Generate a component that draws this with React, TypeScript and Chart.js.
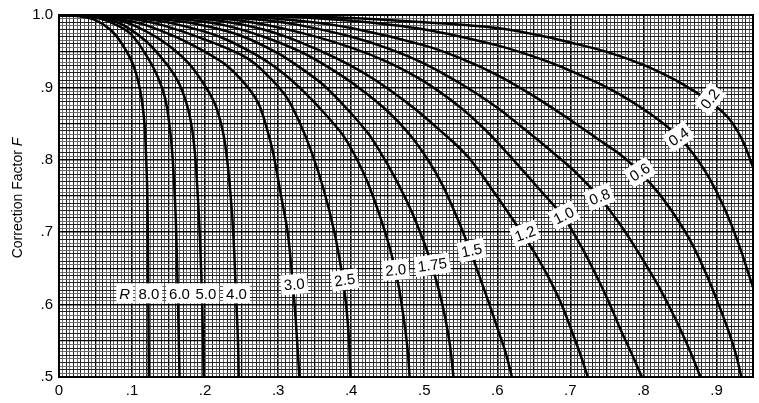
import React, { useEffect, useRef } from "react";
import { Chart, registerables } from "chart.js";

Chart.register(...registerables);

// ---- axis tick labels ----
const xTickLabels = ["0", ".1", ".2", ".3", ".4", ".5", ".6", ".7", ".8", ".9"];
const yTickLabels = [".5", ".6", ".7", ".8", ".9", "1.0"];

// ---- curves: [P, F] pairs ----
const curveR8_0: [number, number][] = [[0, 1], [0.03, 0.998], [0.05, 0.993], [0.07, 0.98], [0.085, 0.962], [0.1, 0.935], [0.108, 0.91], [0.113, 0.885], [0.117, 0.85], [0.119, 0.81], [0.121, 0.75], [0.122, 0.65], [0.1225, 0.58], [0.123, 0.5]];
const curveR6_0: [number, number][] = [[0, 1], [0.04, 0.998], [0.06, 0.994], [0.081, 0.985], [0.1, 0.972], [0.122, 0.94], [0.135, 0.915], [0.145, 0.886], [0.151, 0.85], [0.155, 0.81], [0.159, 0.74], [0.161, 0.68], [0.163, 0.6], [0.165, 0.5]];
const curveR5_0: [number, number][] = [[0, 1], [0.05, 0.998], [0.07, 0.993], [0.09, 0.985], [0.12, 0.963], [0.145, 0.935], [0.162, 0.91], [0.174, 0.88], [0.181, 0.85], [0.186, 0.81], [0.19, 0.75], [0.193, 0.69], [0.196, 0.6], [0.198, 0.5]];
const curveR4_0: [number, number][] = [[0, 1], [0.05, 0.998], [0.08, 0.993], [0.104, 0.985], [0.14, 0.965], [0.176, 0.935], [0.198, 0.905], [0.213, 0.878], [0.223, 0.845], [0.229, 0.81], [0.235, 0.75], [0.239, 0.69], [0.242, 0.62], [0.245, 0.55], [0.246, 0.5]];
const curveR3_0: [number, number][] = [[0, 1], [0.06, 0.998], [0.1, 0.991], [0.122, 0.985], [0.17, 0.965], [0.223, 0.935], [0.25, 0.91], [0.272, 0.88], [0.284, 0.845], [0.293, 0.81], [0.304, 0.75], [0.313, 0.7], [0.319, 0.64], [0.324, 0.58], [0.329, 0.5]];
const curveR2_5: [number, number][] = [[0, 1], [0.07, 0.998], [0.11, 0.993], [0.145, 0.985], [0.2, 0.966], [0.258, 0.94], [0.29, 0.912], [0.313, 0.884], [0.33, 0.85], [0.346, 0.81], [0.362, 0.76], [0.377, 0.7], [0.387, 0.645], [0.393, 0.6], [0.397, 0.55], [0.399, 0.5]];
const curveR2_0: [number, number][] = [[0, 1], [0.08, 0.998], [0.13, 0.993], [0.17, 0.985], [0.22, 0.97], [0.27, 0.945], [0.3, 0.925], [0.329, 0.9], [0.36, 0.868], [0.388, 0.835], [0.404, 0.808], [0.422, 0.77], [0.44, 0.72], [0.455, 0.67], [0.465, 0.625], [0.472, 0.58], [0.477, 0.54], [0.48, 0.5]];
const curveR1_75: [number, number][] = [[0, 1], [0.1, 0.998], [0.16, 0.992], [0.2, 0.985], [0.25, 0.971], [0.3, 0.947], [0.329, 0.928], [0.36, 0.905], [0.39, 0.875], [0.422, 0.838], [0.439, 0.812], [0.46, 0.775], [0.482, 0.73], [0.5, 0.685], [0.51, 0.655], [0.52, 0.62], [0.528, 0.585], [0.535, 0.545], [0.54, 0.5]];
const curveR1_5: [number, number][] = [[0, 1], [0.12, 0.998], [0.18, 0.993], [0.23, 0.985], [0.28, 0.97], [0.329, 0.95], [0.37, 0.927], [0.41, 0.9], [0.45, 0.867], [0.48, 0.835], [0.505, 0.8], [0.525, 0.765], [0.545, 0.72], [0.562, 0.677], [0.577, 0.635], [0.59, 0.598], [0.601, 0.565], [0.611, 0.535], [0.62, 0.5]];
const curveR1_2: [number, number][] = [[0, 1], [0.15, 0.998], [0.22, 0.992], [0.28, 0.98], [0.329, 0.963], [0.38, 0.94], [0.43, 0.912], [0.48, 0.876], [0.52, 0.842], [0.559, 0.805], [0.595, 0.756], [0.633, 0.7], [0.655, 0.665], [0.673, 0.632], [0.688, 0.6], [0.701, 0.566], [0.713, 0.533], [0.724, 0.5]];
const curveR1_0: [number, number][] = [[0, 1], [0.17, 0.998], [0.25, 0.992], [0.329, 0.976], [0.4, 0.955], [0.45, 0.935], [0.5, 0.908], [0.55, 0.872], [0.585, 0.84], [0.613, 0.81], [0.65, 0.768], [0.691, 0.72], [0.715, 0.68], [0.739, 0.633], [0.755, 0.598], [0.769, 0.565], [0.784, 0.532], [0.798, 0.5]];
const curveR0_8: [number, number][] = [[0, 1], [0.2, 0.998], [0.28, 0.993], [0.329, 0.986], [0.4, 0.97], [0.45, 0.954], [0.5, 0.933], [0.55, 0.905], [0.6, 0.872], [0.64, 0.84], [0.682, 0.805], [0.71, 0.78], [0.74, 0.748], [0.765, 0.715], [0.79, 0.677], [0.817, 0.632], [0.835, 0.598], [0.851, 0.565], [0.865, 0.533], [0.878, 0.5]];
const curveR0_6: [number, number][] = [[0, 1], [0.25, 0.998], [0.329, 0.992], [0.4, 0.982], [0.5, 0.958], [0.55, 0.94], [0.6, 0.917], [0.65, 0.888], [0.7, 0.855], [0.74, 0.827], [0.77, 0.806], [0.795, 0.783], [0.82, 0.755], [0.845, 0.72], [0.866, 0.685], [0.887, 0.64], [0.903, 0.6], [0.917, 0.562], [0.927, 0.53], [0.934, 0.5]];
const curveR0_4: [number, number][] = [[0, 1], [0.3, 0.998], [0.4, 0.992], [0.5, 0.98], [0.6, 0.958], [0.657, 0.94], [0.7, 0.923], [0.75, 0.9], [0.794, 0.874], [0.825, 0.852], [0.848, 0.832], [0.87, 0.806], [0.89, 0.775], [0.91, 0.735], [0.93, 0.685], [0.948, 0.63], [0.955, 0.61]];
const curveR0_2: [number, number][] = [[0, 1], [0.3, 0.999], [0.4, 0.996], [0.5, 0.99], [0.6, 0.982], [0.657, 0.972], [0.7, 0.962], [0.75, 0.949], [0.8, 0.931], [0.84, 0.912], [0.866, 0.897], [0.889, 0.882], [0.917, 0.857], [0.935, 0.828], [0.948, 0.795], [0.955, 0.775]];

const rNames = ["8.0", "6.0", "5.0", "4.0", "3.0", "2.5", "2.0", "1.75", "1.5", "1.2", "1.0", "0.8", "0.6", "0.4", "0.2"];
const rCurves = [curveR8_0, curveR6_0, curveR5_0, curveR4_0, curveR3_0, curveR2_5, curveR2_0, curveR1_75, curveR1_5, curveR1_2, curveR1_0, curveR0_8, curveR0_6, curveR0_4, curveR0_2];

// ---- in-chart curve labels (anchor in data units) ----
const labelTexts = ["R", "8.0", "6.0", "5.0", "4.0", "3.0", "2.5", "2.0", "1.75", "1.5", "1.2", "1.0", "0.8", "0.6", "0.4", "0.2"];
const labelP = [0.09, 0.123, 0.165, 0.201, 0.243, 0.322, 0.391, 0.461, 0.511, 0.565, 0.638, 0.691, 0.74, 0.795, 0.848, 0.891];
const labelF = [0.6155, 0.6155, 0.6155, 0.6155, 0.6155, 0.628, 0.634, 0.648, 0.655, 0.675, 0.698, 0.723, 0.749, 0.783, 0.832, 0.884];
const labelAngle = [0, 0, 0, 0, 0, -5, -8, -5, -8, -12, -20, -27, -22, -33, -35, -52];
const labelItalic = [true, false, false, false, false, false, false, false, false, false, false, false, false, false, false, false];

const FONT = '"Liberation Sans", Arial, Helvetica, sans-serif';

const isMult = (v: number, step: number) => Math.abs(v / step - Math.round(v / step)) < 1e-6;

const framePlugin = {
  id: "frame",
  beforeDatasetsDraw(chart: any) {
    const { ctx, chartArea: a } = chart;
    ctx.save();
    ctx.strokeStyle = "#000";
    ctx.lineWidth = 2;
    ctx.strokeRect(a.left, a.top, a.right - a.left, a.bottom - a.top);
    ctx.restore();
  },
};

const curveLabelPlugin = {
  id: "curveLabels",
  afterDatasetsDraw(chart: any) {
    const { ctx } = chart;
    const x = chart.scales.x;
    const y = chart.scales.y;
    for (let i = 0; i < labelTexts.length; i++) {
      const px = x.getPixelForValue(labelP[i]);
      const py = y.getPixelForValue(labelF[i]);
      ctx.save();
      ctx.translate(px, py);
      ctx.rotate((labelAngle[i] * Math.PI) / 180);
      ctx.font = (labelItalic[i] ? "italic " : "") + "15px " + FONT;
      const w = ctx.measureText(labelTexts[i]).width;
      ctx.fillStyle = "#fff";
      ctx.fillRect(-w / 2 - 3, -10, w + 6, 20);
      ctx.fillStyle = "#000";
      ctx.textAlign = "center";
      ctx.textBaseline = "middle";
      ctx.fillText(labelTexts[i], 0, 1);
      ctx.restore();
    }
  },
};

const yTitlePlugin = {
  id: "yTitle",
  afterDraw(chart: any) {
    const { ctx, chartArea: a } = chart;
    const part1 = "Correction Factor ";
    const part2 = "F";
    ctx.save();
    ctx.translate(18, (a.top + a.bottom) / 2 + 2);
    ctx.rotate(-Math.PI / 2);
    ctx.fillStyle = "#000";
    ctx.textBaseline = "middle";
    ctx.textAlign = "left";
    ctx.font = "14px " + FONT;
    const w1 = ctx.measureText(part1).width;
    ctx.font = "italic 14px " + FONT;
    const w2 = ctx.measureText(part2).width;
    const start = -(w1 + w2) / 2;
    ctx.font = "14px " + FONT;
    ctx.fillText(part1, start, 0);
    ctx.font = "italic 14px " + FONT;
    ctx.fillText(part2, start + w1, 0);
    ctx.restore();
  },
};

const gridColor = (ctx: any) => {
  const v = ctx.tick ? ctx.tick.value : 0;
  if (isMult(v, 0.05)) return "#000";
  if (isMult(v, 0.01)) return "#222";
  return "#6a6a6a";
};
const gridWidth = (ctx: any) => {
  const v = ctx.tick ? ctx.tick.value : 0;
  if (isMult(v, 0.1)) return 1.6;
  if (isMult(v, 0.05)) return 1.3;
  return 1;
};

export default function App() {
  const ref = useRef<HTMLCanvasElement | null>(null);
  useEffect(() => {
    if (!ref.current) return;
    const chart = new Chart(ref.current, {
      type: "scatter",
      data: {
        datasets: rCurves.map((c, i) => ({
          label: "R = " + rNames[i],
          data: c.map(([p, f]) => ({ x: p, y: f })),
          showLine: true,
          borderColor: "#000",
          borderWidth: 2.5,
          pointRadius: 0,
          tension: 0.35,
          fill: false,
        })),
      },
      options: {
        animation: false,
        responsive: false,
        devicePixelRatio: 1,
        layout: { padding: { left: 0, right: 6, top: 9, bottom: 0 } },
        plugins: { legend: { display: false }, tooltip: { enabled: false }, title: { display: false } },
        scales: {
          x: {
            type: "linear",
            min: 0,
            max: 0.95,
            afterFit: (s: any) => { s.height = 26; },
            border: { display: true, color: "#000", width: 2 },
            grid: { color: gridColor, lineWidth: gridWidth, drawTicks: false },
            ticks: {
              stepSize: 0.005,
              autoSkip: false,
              maxRotation: 0,
              padding: 5,
              color: "#000",
              font: { family: FONT, size: 15 },
              callback: (v: any) => {
                const n = Number(v);
                if (!isMult(n, 0.1)) return "";
                return xTickLabels[Math.round(n * 10)] ?? "";
              },
            },
          },
          y: {
            type: "linear",
            min: 0.5,
            max: 1.0,
            afterFit: (s: any) => { s.width = 59; },
            border: { display: true, color: "#000", width: 2 },
            grid: { color: gridColor, lineWidth: gridWidth, drawTicks: false },
            ticks: {
              stepSize: 0.005,
              autoSkip: false,
              padding: 6,
              color: "#000",
              font: { family: FONT, size: 15 },
              callback: (v: any) => {
                const n = Number(v);
                if (!isMult(n, 0.1)) return "";
                return yTickLabels[Math.round(n * 10) - 5] ?? "";
              },
            },
          },
        },
      },
      plugins: [framePlugin, curveLabelPlugin, yTitlePlugin],
    } as any);
    return () => chart.destroy();
  }, []);
  return (
    <div style={{ position: "absolute", left: 0, top: 0, width: 759, height: 403, background: "#fff" }}>
      <canvas ref={ref} width={759} height={403} style={{ width: 759, height: 403, display: "block" }} />
    </div>
  );
}
